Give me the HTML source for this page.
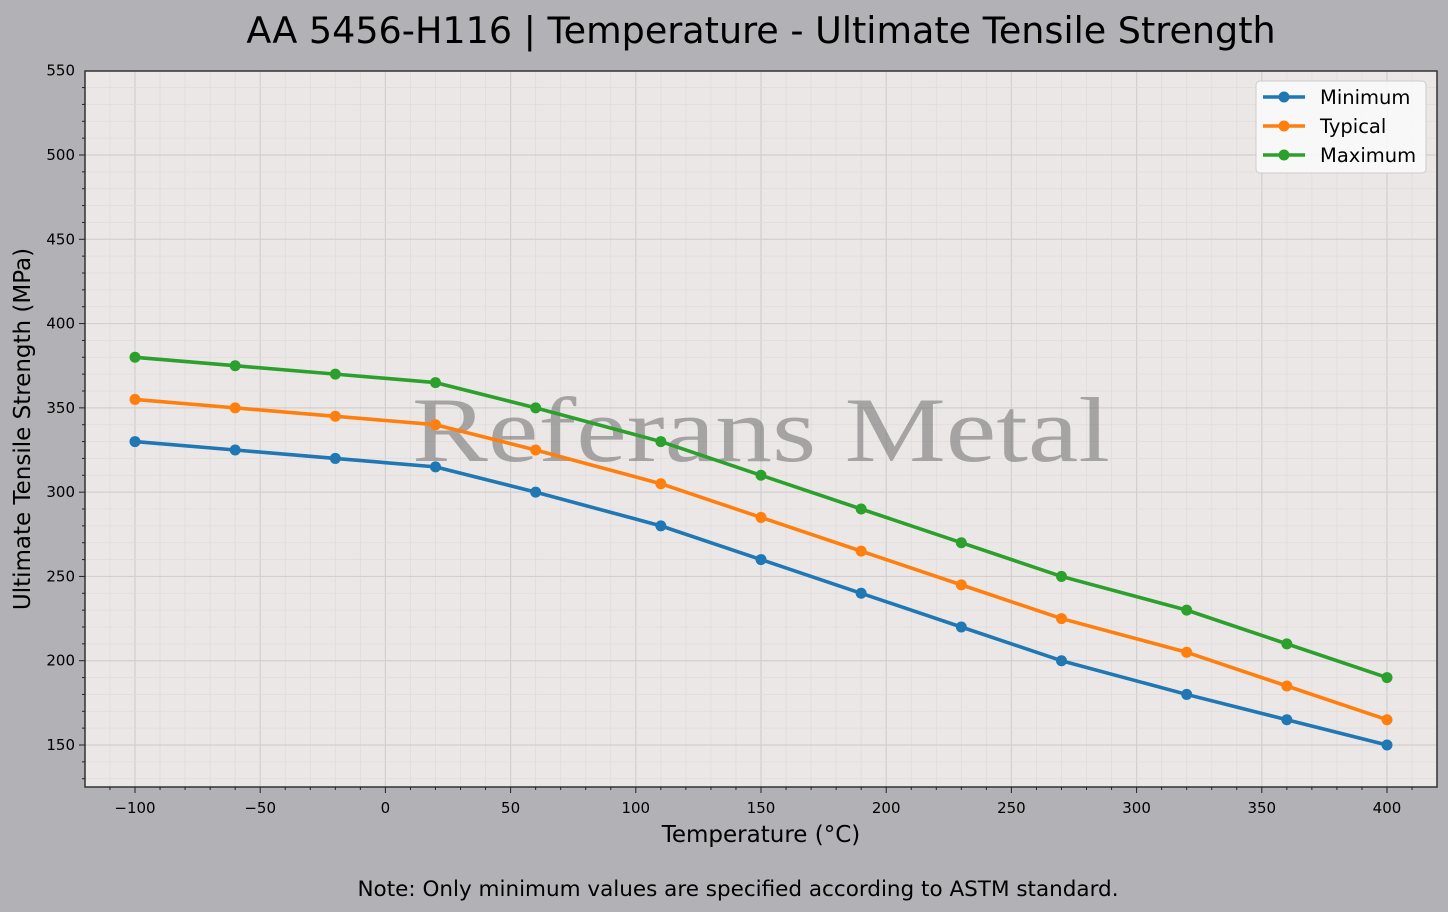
<!DOCTYPE html>
<html><head><meta charset="utf-8"><style>
html,body{margin:0;padding:0;background:#b2b1b6;}
svg{display:block;font-family:"DejaVu Sans","Liberation Sans",sans-serif;}
</style></head><body>
<svg id="s" width="1448" height="912" viewBox="0 0 1448 912" xmlns="http://www.w3.org/2000/svg">
<rect width="1448" height="912" fill="#b2b1b6"/>
<rect x="85" y="71" width="1352" height="716" fill="#ebe7e6"/>
<g id="grid"></g>
<text x="761" y="440" font-family="Liberation Serif, serif" font-size="92" fill="#777" fill-opacity="0.6" text-anchor="middle" dominant-baseline="middle" textLength="698" lengthAdjust="spacingAndGlyphs">Referans Metal</text>
<g id="series"></g>
<rect x="85" y="71" width="1352" height="716" fill="none" stroke="#333" stroke-width="1.5"/>
<g id="ticks" stroke="#222"></g>
<g font-size="15" fill="#000" text-anchor="middle">
<text x="135" y="813">−100</text><text x="260.2" y="813">−50</text><text x="385.4" y="813">0</text>
<text x="510.6" y="813">50</text><text x="635.8" y="813">100</text><text x="761" y="813">150</text>
<text x="886.2" y="813">200</text><text x="1011.4" y="813">250</text><text x="1136.6" y="813">300</text>
<text x="1261.8" y="813">350</text><text x="1387" y="813">400</text>
</g>
<g font-size="15" fill="#000" text-anchor="end">
<text x="75" y="750">150</text><text x="75" y="665.7">200</text><text x="75" y="581.4">250</text>
<text x="75" y="497.1">300</text><text x="75" y="412.8">350</text><text x="75" y="328.6">400</text>
<text x="75" y="244.3">450</text><text x="75" y="160">500</text><text x="75" y="75.7">550</text>
</g>
<text x="761" y="842" font-size="23" text-anchor="middle">Temperature (°C)</text>
<text transform="translate(30,429) rotate(-90)" font-size="23" text-anchor="middle">Ultimate Tensile Strength (MPa)</text>
<text x="761" y="43" font-size="36.5" text-anchor="middle">AA 5456-H116 | Temperature - Ultimate Tensile Strength</text>
<text x="738" y="896" font-size="21.5" text-anchor="middle">Note: Only minimum values are specified according to ASTM standard.</text>
<rect x="1256" y="81" width="170" height="92" rx="4" fill="#fbfafa" fill-opacity="0.85" stroke="#ccc"/>
<line x1="1263" y1="97" x2="1305" y2="97" stroke="#1f77b4" stroke-width="3.5"/><circle cx="1284" cy="97" r="5.5" fill="#1f77b4"/>
<line x1="1263" y1="126" x2="1305" y2="126" stroke="#ff7f0e" stroke-width="3.5"/><circle cx="1284" cy="126" r="5.5" fill="#ff7f0e"/>
<line x1="1263" y1="155" x2="1305" y2="155" stroke="#2ca02c" stroke-width="3.5"/><circle cx="1284" cy="155" r="5.5" fill="#2ca02c"/>
<text x="1320" y="104" font-size="19.5">Minimum</text>
<text x="1320" y="133" font-size="19.5">Typical</text>
<text x="1320" y="162" font-size="19.5">Maximum</text>
</svg>
<script>
var NS="http://www.w3.org/2000/svg";
function X(v){return 385.4+2.504*v;}
function Y(v){return 745-(v-150)*1.68571;}
function el(p,t,a){var e=document.createElementNS(NS,t);for(var k in a)e.setAttribute(k,a[k]);p.appendChild(e);return e;}
var g=document.getElementById('grid'),tk=document.getElementById('ticks');
for(var v=-120;v<=420;v+=10){var x=X(v);if(x<85||x>1437)continue;var maj=v%50==0;
 el(g,'line',{x1:x,x2:x,y1:71,y2:787,stroke:maj?'#d2cfcf':'#e0dcdc','stroke-width':maj?1.2:0.8});
 el(tk,'line',{x1:x,x2:x,y1:787,y2:maj?793:790,'stroke-width':1});}
for(var v=130;v<=550;v+=10){var y=Y(v);if(y<71||y>787)continue;var maj=v%50==0;
 el(g,'line',{x1:85,x2:1437,y1:y,y2:y,stroke:maj?'#d2cfcf':'#e0dcdc','stroke-width':maj?1.2:0.8});
 el(tk,'line',{x1:85,x2:maj?79:82,y1:y,y2:y,'stroke-width':1});}
var T=[-100,-60,-20,20,60,110,150,190,230,270,320,360,400];
var S=[["#1f77b4",[330,325,320,315,300,280,260,240,220,200,180,165,150]],
["#ff7f0e",[355,350,345,340,325,305,285,265,245,225,205,185,165]],
["#2ca02c",[380,375,370,365,350,330,310,290,270,250,230,210,190]]];
var sg=document.getElementById('series');
S.forEach(function(s){var pts=T.map(function(t,i){return X(t)+','+Y(s[1][i]);}).join(' ');
 el(sg,'polyline',{points:pts,fill:'none',stroke:s[0],'stroke-width':3.6,'stroke-linejoin':'round'});
 T.forEach(function(t,i){el(sg,'circle',{cx:X(t),cy:Y(s[1][i]),r:5.5,fill:s[0]});});});
</script>
</body></html>
